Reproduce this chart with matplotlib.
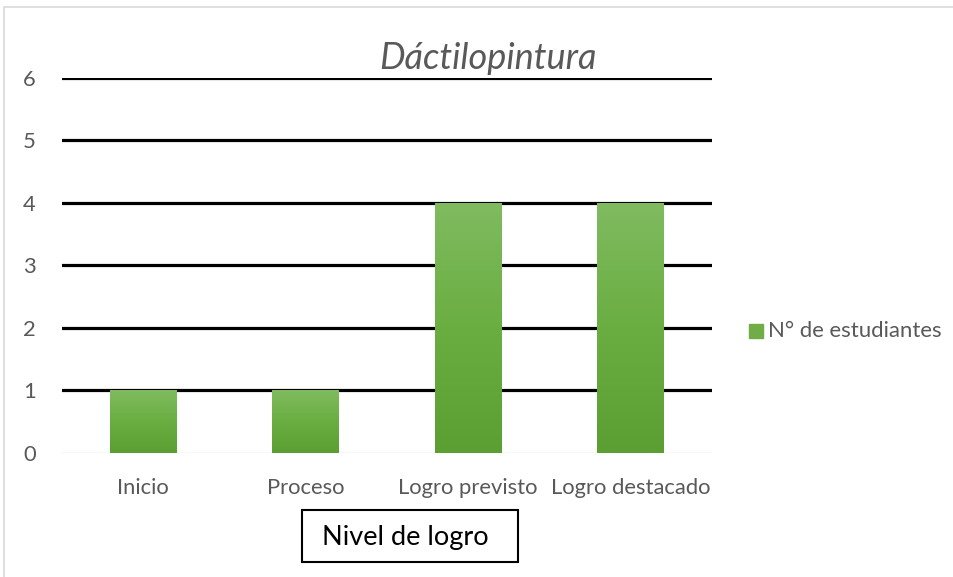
import matplotlib.pyplot as plt
import matplotlib.patches as mpatches
from matplotlib.colors import LinearSegmentedColormap
import numpy as np

plt.rcParams['font.family'] = ['Lato', 'DejaVu Sans']

categorias = ['Inicio', 'Proceso', 'Logro previsto', 'Logro destacado']
estudiantes = [1, 1, 4, 4]
titulo = 'Dáctilopintura'
serie = 'N° de estudiantes'
eje_x = 'Nivel de logro'

gris = '#595959'

fig = plt.figure(figsize=(9.54, 5.77), dpi=100)
ax = fig.add_axes([0.065, 0.215, 0.681, 0.65])

x = np.arange(len(categorias))
barras = ax.bar(x, estudiantes, width=0.41, color='#70ad47', zorder=2)

# degradado vertical dentro de cada barra
grad = np.linspace(0, 1, 256).reshape(-1, 1)
cmap = LinearSegmentedColormap.from_list('g', ['#5b9f33', '#6aae41', '#80bb60'])
for b in barras:
    x0, y0 = b.get_x(), b.get_y()
    im = ax.imshow(grad, extent=(x0, x0 + b.get_width(), y0, y0 + b.get_height()),
                   origin='lower', cmap=cmap, aspect='auto', zorder=3)
    im.set_clip_path(b)

ax.set_xlim(-0.5, len(categorias) - 0.5)
ax.set_ylim(0, 6)
ax.set_yticks(range(0, 7))
for v in range(1, 7):
    ax.axhline(v, color='black', lw=2.3, zorder=1)
ax.axhline(0, color='#d9d9d9', lw=1, zorder=1)

ax.set_xticks(x)
ax.set_xticklabels(categorias)
ax.tick_params(axis='both', length=0, labelsize=15.8, labelcolor=gris)
ax.tick_params(axis='x', pad=18)
ax.tick_params(axis='y', pad=19)
for s in ax.spines.values():
    s.set_visible(False)

fig.text(0.512, 0.898, titulo, ha='center', va='center', fontsize=26,
         style='italic', color=gris)

# caja del título del eje x
fig.patches.append(mpatches.Rectangle((302 / 954, 1 - 562 / 577), 216 / 954, 52 / 577,
                                      transform=fig.transFigure, fc='white',
                                      ec='black', lw=1.5))
fig.text(0.4245, 0.069, eje_x, ha='center', va='center', fontsize=19.5,
         color='black')

# leyenda
fig.patches.append(mpatches.Rectangle((0.785, 0.414), 0.0147, 0.024,
                                      transform=fig.transFigure, color='#70ad47'))
fig.text(0.805, 0.426, serie, ha='left', va='center', fontsize=15.9, color=gris)

# marco gris del gráfico
fig.patches.append(mpatches.Rectangle((0.004, -0.1), 1.2, 1.088,
                                      transform=fig.transFigure, fill=False,
                                      ec='#d9d9d9', lw=1.2))

fig.savefig('out.png', dpi=100)
